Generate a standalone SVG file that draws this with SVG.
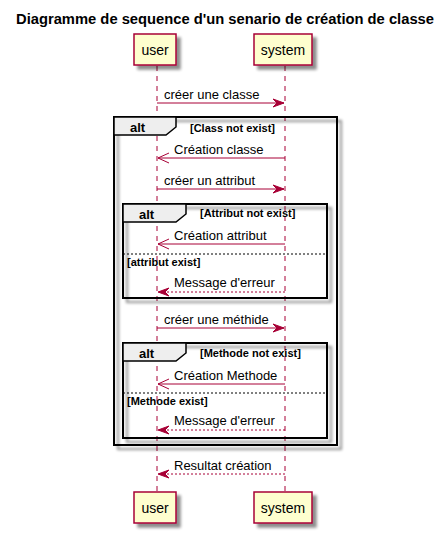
<svg xmlns="http://www.w3.org/2000/svg" width="446" height="534" viewBox="0 0 446 534">
<defs>
<filter id="sh" x="-20%" y="-20%" width="150%" height="150%">
<feGaussianBlur in="SourceAlpha" stdDeviation="1.5"/>
<feOffset dx="4" dy="4" result="b"/>
<feComponentTransfer><feFuncA type="linear" slope="0.45"/></feComponentTransfer>
<feMerge><feMergeNode/><feMergeNode in="SourceGraphic"/></feMerge>
</filter>
<marker id="fill" viewBox="0 0 12 10" refX="11" refY="5" markerWidth="12" markerHeight="10" markerUnits="userSpaceOnUse" orient="auto">
<polygon points="0,1 11,5 0,9 4,5" fill="#A80036" stroke="#A80036" stroke-width="1"/>
</marker>
<marker id="open" viewBox="0 0 12 12" refX="11" refY="6" markerWidth="12" markerHeight="12" markerUnits="userSpaceOnUse" orient="auto">
<polyline points="0,1 11,6 0,11" fill="none" stroke="#A80036" stroke-width="1"/>
</marker>
</defs>
<style>
text{font-family:"Liberation Sans",Arial,sans-serif;fill:#000}
.title{font-size:14px;font-weight:bold}
.pt{font-size:14px}
.msg{font-size:13px}
.b{font-size:11px;font-weight:bold}
.alt{font-size:13px;font-weight:bold}
.part{fill:#FEFECE;stroke:#A80036;stroke-width:1.5}
.life{stroke:#A80036;stroke-width:1;stroke-dasharray:5,5;fill:none}
.m{stroke:#A80036;stroke-width:1;fill:none}
.d{stroke-dasharray:2,2}
.frame{fill:none;stroke:#000;stroke-width:2}
.tab{fill:#EEEEEE;stroke:#000;stroke-width:1.5}
.sep{stroke:#000;stroke-width:1;stroke-dasharray:2,2}
</style>
<rect width="446" height="534" fill="#fff"/>
<text class="title" x="16" y="24" textLength="418" lengthAdjust="spacingAndGlyphs">Diagramme de sequence d'un senario de création de classe</text>

<g id="lifelines">
<line class="life" x1="157" y1="66" x2="157" y2="492"/>
<line class="life" x1="285" y1="66" x2="285" y2="492"/>
</g>

<g id="frames">
<g id="alt-outer">
<rect class="frame" x="114" y="117" width="223" height="328" filter="url(#sh)"/>
<polygon class="tab" points="114,117 176,117 176,127 166,135 114,135"/>
<text class="alt" x="130" y="132">alt</text>
<text class="b" x="190" y="132">[Class not exist]</text>
</g>
<g id="alt-attr">
<rect class="frame" x="123" y="204" width="204" height="94" filter="url(#sh)"/>
<polygon class="tab" points="123,204 186,204 186,214 176,222 123,222"/>
<text class="alt" x="139" y="219">alt</text>
<text class="b" x="200" y="217">[Attribut not exist]</text>
<line class="sep" x1="123" y1="254" x2="327" y2="254"/>
<text class="b" x="127" y="266">[attribut exist]</text>
</g>
<g id="alt-meth">
<rect class="frame" x="123" y="343" width="204" height="95" filter="url(#sh)"/>
<polygon class="tab" points="123,343 186,343 186,353 176,361 123,361"/>
<text class="alt" x="139" y="358">alt</text>
<text class="b" x="200" y="357">[Methode not exist]</text>
<line class="sep" x1="123" y1="393" x2="327" y2="393"/>
<text class="b" x="127" y="405">[Methode exist]</text>
</g>
</g>

<g id="connectors">
<line class="m" x1="157" y1="103" x2="284" y2="103" marker-end="url(#fill)"/>
<text class="msg" x="164" y="99">créer une classe</text>
<line class="m" x1="285" y1="158" x2="158" y2="158" marker-end="url(#open)"/>
<text class="msg" x="174" y="154">Création classe</text>
<line class="m" x1="157" y1="189" x2="284" y2="189" marker-end="url(#fill)"/>
<text class="msg" x="164" y="185">créer un attribut</text>
<line class="m" x1="285" y1="244" x2="158" y2="244" marker-end="url(#open)"/>
<text class="msg" x="174" y="240">Création attribut</text>
<line class="m d" x1="285" y1="292" x2="158" y2="292" marker-end="url(#fill)"/>
<text class="msg" x="174" y="287">Message d'erreur</text>
<line class="m" x1="157" y1="328" x2="284" y2="328" marker-end="url(#fill)"/>
<text class="msg" x="164" y="324">créer une méthide</text>
<line class="m" x1="285" y1="384" x2="158" y2="384" marker-end="url(#open)"/>
<text class="msg" x="174" y="380">Création Methode</text>
<line class="m d" x1="285" y1="430" x2="158" y2="430" marker-end="url(#fill)"/>
<text class="msg" x="174" y="425">Message d'erreur</text>
<line class="m d" x1="285" y1="474" x2="158" y2="474" marker-end="url(#fill)"/>
<text class="msg" x="174" y="470">Resultat création</text>
</g>

<g id="user-top">
<rect class="part" x="134" y="34" width="42" height="31" filter="url(#sh)"/>
<text class="pt" x="155" y="55" text-anchor="middle">user</text>
</g>
<g id="system-top">
<rect class="part" x="254" y="34" width="58" height="31" filter="url(#sh)"/>
<text class="pt" x="283" y="55" text-anchor="middle">system</text>
</g>
<g id="user-bottom">
<rect class="part" x="134" y="492" width="42" height="31" filter="url(#sh)"/>
<text class="pt" x="155" y="513" text-anchor="middle">user</text>
</g>
<g id="system-bottom">
<rect class="part" x="254" y="492" width="58" height="31" filter="url(#sh)"/>
<text class="pt" x="283" y="513" text-anchor="middle">system</text>
</g>
</svg>
